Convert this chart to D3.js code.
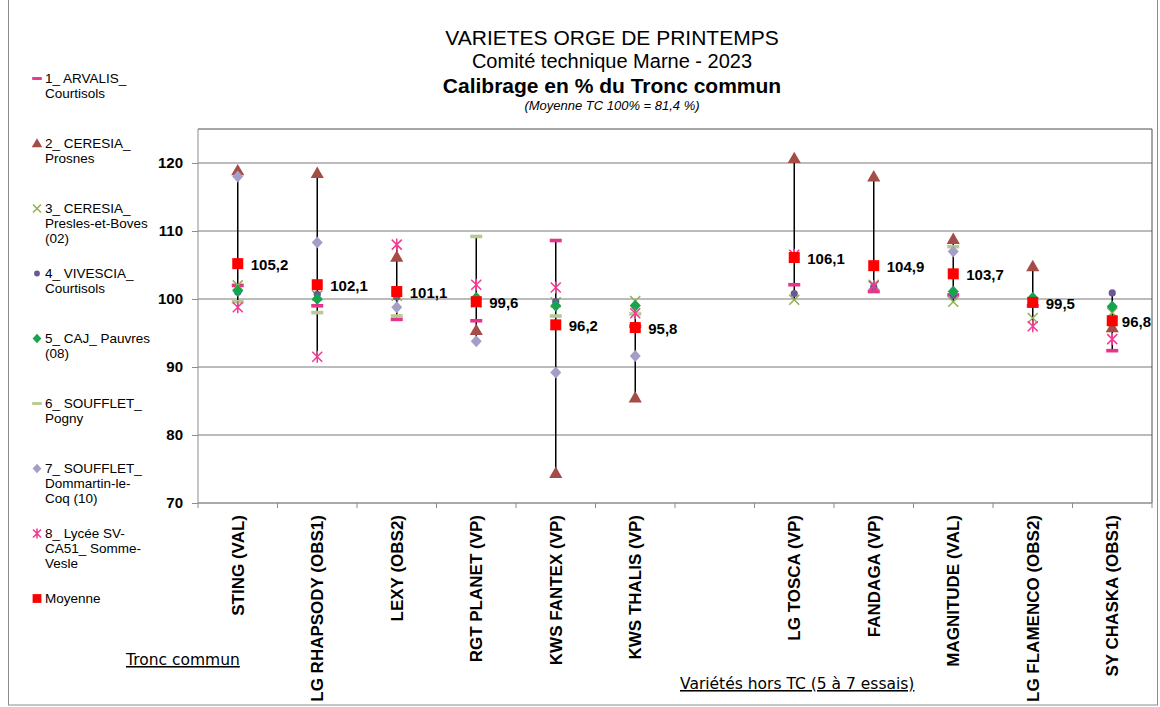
<!DOCTYPE html>
<html>
<head>
<meta charset="utf-8">
<script src="https://cdn.jsdelivr.net/npm/d3@7"></script>
<style>
  body { margin: 0; background: #fff; }
  svg { display: block; font-family: "Liberation Sans", Arial, sans-serif; }
  .grid line { stroke: #a6a6a6; stroke-width: 1.5; }
  .ylab { font-weight: bold; font-size: 15px; }
  .xlab { font-weight: bold; font-size: 17px; }
  .moy { font-weight: bold; font-size: 15px; }
  .leg { font-size: 13.5px; }
  .note { font-family: "DejaVu Sans", Verdana, sans-serif; font-size: 15.5px; text-decoration: underline; }
</style>
</head>
<body>
<svg class="chart" width="1160" height="707"></svg>
<script>
// variétés (la case vide sépare le tronc commun des variétés hors TC)
const categories = ["STING (VAL)", "LG RHAPSODY (OBS1)", "LEXY (OBS2)", "RGT PLANET (VP)", "KWS FANTEX (VP)",
  "KWS THALIS (VP)", "", "LG TOSCA (VP)", "FANDAGA (VP)", "MAGNITUDE (VAL)", "LG FLAMENCO (OBS2)", "SY CHASKA (OBS1)"];

// un tableau par essai (null = pas de donnée)
const arvalis     = [102.0, 99.0, 97.0, 96.8, 108.6, 96.0, null, 102.1, 101.1, 100.6, 99.0, 92.4];
const cerProsnes  = [118.9, 118.5, 106.2, 95.4, 74.4, 85.5, null, 120.7, 118.0, 108.8, 104.8, 95.8];
const cerPresles  = [102.0, 100.5, 100.5, 99.5, 99.5, 99.7, null, 99.9, 102.1, 99.6, 97.2, 98.0];
const vivescia    = [101.0, 100.7, 100.3, 99.8, 99.6, 99.0, null, 100.8, 101.8, 100.5, 99.8, 100.9];
const caj         = [101.2, 100.0, 100.8, 100.2, 99.0, 99.0, null, null, null, 101.1, 100.2, 98.9];
const soufPogny   = [99.6, 98.0, 97.5, 109.2, 97.5, 97.8, null, null, null, 107.7, null, null];
const soufDommart = [118.0, 108.3, 98.8, 93.8, 89.2, 91.6, null, null, null, 107.0, null, null];
const lycee       = [98.8, 91.5, 108.0, 102.1, 101.7, 97.9, null, 106.5, 101.9, null, 96.0, 94.1];
const moyenne     = [105.2, 102.1, 101.1, 99.6, 96.2, 95.8, null, 106.1, 104.9, 103.7, 99.5, 96.8];

const yTicks = [70, 80, 90, 100, 110, 120];

const legendLabels = [
  ["1_ ARVALIS_", "Courtisols"],
  ["2_ CERESIA_", "Prosnes"],
  ["3_ CERESIA_", "Presles-et-Boves", "(02)"],
  ["4_ VIVESCIA_", "Courtisols"],
  ["5_ CAJ_ Pauvres", "(08)"],
  ["6_ SOUFFLET_", "Pogny"],
  ["7_ SOUFFLET_", "Dommartin-le-", "Coq (10)"],
  ["8_ Lycée SV-", "CA51_ Somme-", "Vesle"],
  ["Moyenne"]
];

const series = [arvalis, cerProsnes, cerPresles, vivescia, caj, soufPogny, soufDommart, lycee];
const kinds = ["dash", "triangle", "x", "dot", "diamond", "dash", "diamond", "star", "square"];
const colors = ["#e8338a", "#a54c47", "#8fb050", "#6a5896", "#16a54e", "#b6ca92", "#a79ec7", "#f23a92", "#ff0000"];

const svg = d3.select("svg.chart");

// cadre extérieur
svg.append("rect").attr("x", 8.5).attr("y", -2).attr("width", 1149).attr("height", 707)
  .attr("fill", "none").attr("stroke", "#8c8c8c");

const x = d3.scaleBand().domain(categories).range([198, 1152]).padding(0);
const y = d3.scaleLinear().domain([70, 125]).range([503, 129]);
const cx = d => x(d) + x.bandwidth() / 2;

// grille
svg.append("g").attr("class", "grid")
  .selectAll("line").data(yTicks.filter(t => t > 70)).join("line")
  .attr("x1", 198).attr("x2", 1152).attr("y1", d => y(d)).attr("y2", d => y(d));

// bord haut et droit du graphe
svg.append("path").attr("d", `M198,${y(125)}H1152V${y(70)}`)
  .attr("fill", "none").attr("stroke", "#4d4d4d").attr("stroke-width", 1);

// axe Y
const yAxis = svg.append("g").attr("transform", "translate(198,0)")
  .call(d3.axisLeft(y).tickValues(yTicks).tickSize(6).tickPadding(9).tickSizeOuter(0));
yAxis.select(".domain").attr("stroke", "#8c8c8c").attr("d", `M0,${y(125)}V${y(70)}`);
yAxis.selectAll(".tick line").attr("stroke", "#8c8c8c");
yAxis.selectAll(".tick text").attr("class", "ylab").attr("fill", "#000");

// axe X : ligne + graduations entre les catégories
svg.append("line").attr("x1", 198).attr("x2", 1152).attr("y1", y(70)).attr("y2", y(70))
  .attr("stroke", "#8c8c8c").attr("stroke-width", 1.5);
svg.append("g").selectAll("line")
  .data(categories.map(c => x(c)).concat([x.range()[1]]))
  .join("line")
  .attr("x1", d => d).attr("x2", d => d).attr("y1", y(70)).attr("y2", y(70) + 5)
  .attr("stroke", "#8c8c8c");

svg.append("g").selectAll("text")
  .data(categories.filter(c => c !== ""))
  .join("text")
  .attr("class", "xlab")
  .attr("transform", d => `translate(${cx(d)},515) rotate(-90)`)
  .attr("text-anchor", "end")
  .attr("dy", "0.36em")
  .text(d => d);

// dessine un marqueur centré sur 0,0
function marker(g, kind, color, k) {
  if (kind == "dash") {
    g.append("rect").attr("x", -6 * k).attr("y", -1.8 * k).attr("width", 12 * k).attr("height", 3.6 * k)
      .attr("fill", color);
  } else if (kind == "triangle") {
    g.append("path").attr("d", d3.symbol(d3.symbolTriangle, 75 * k * k)()).attr("fill", color)
      .attr("transform", `translate(0,${1 * k})`);
  } else if (kind == "diamond") {
    g.append("path").attr("d", `M0,${-6 * k}L${5.5 * k},0L0,${6 * k}L${-5.5 * k},0Z`).attr("fill", color);
  } else if (kind == "dot") {
    g.append("circle").attr("r", 3.6 * k).attr("fill", color);
  } else if (kind == "square") {
    g.append("rect").attr("x", -5.5 * k).attr("y", -5.5 * k).attr("width", 11 * k).attr("height", 11 * k)
      .attr("fill", color);
  } else {
    const s = 5 * k;
    let d = `M${-s},${-s}L${s},${s}M${-s},${s}L${s},${-s}`;
    if (kind == "star") d += `M0,${-s - 1}V${s + 1}`;
    g.append("path").attr("d", d).attr("stroke", color).attr("stroke-width", 1.5).attr("fill", "none");
  }
}

// barres min-max par variété
const ranges = categories.map((c, i) => {
  const vals = series.map(s => s[i]).filter(v => v != null);
  return { c, min: d3.min(vals), max: d3.max(vals) };
}).filter(r => r.c !== "");

svg.append("g").selectAll("line").data(ranges).join("line")
  .attr("x1", d => cx(d.c)).attr("x2", d => cx(d.c))
  .attr("y1", d => y(d.min)).attr("y2", d => y(d.max))
  .attr("stroke", "#000").attr("stroke-width", 1.5);

// points de chaque essai, puis la moyenne par dessus
series.concat([moyenne]).forEach((s, si) => {
  const g = svg.append("g");
  s.forEach((v, i) => {
    if (v == null) return;
    const p = g.append("g").attr("transform", `translate(${cx(categories[i])},${y(v)})`);
    marker(p, kinds[si], colors[si], 1);
  });
});

// étiquettes de la moyenne
const fmt = v => d3.format(".1f")(v).replace(".", ",");
svg.append("g").selectAll("text")
  .data(moyenne.map((v, i) => ({ v, c: categories[i] })).filter(d => d.v != null))
  .join("text")
  .attr("class", "moy")
  .attr("y", d => y(d.v) + 1)
  .attr("dy", "0.36em")
  .text(d => fmt(d.v))
  .attr("x", function (d) {
    const w = this.getComputedTextLength();
    return Math.min(cx(d.c) + 13, 1151 - w);
  });

// légende
legendLabels.forEach((lines, i) => {
  const by = 83 + i * 65;
  const m = svg.append("g").attr("transform", `translate(37,${by - 4.5})`);
  marker(m, kinds[i], colors[i], 0.8);
  svg.append("text").attr("class", "leg").attr("x", 45).attr("y", by)
    .selectAll("tspan").data(lines).join("tspan")
    .attr("x", 45).attr("dy", (d, j) => j == 0 ? 0 : 15)
    .text(d => d);
});

// titres
const titles = [
  { t: "VARIETES ORGE DE PRINTEMPS", y: 45, size: 21, w: "normal", s: "normal" },
  { t: "Comité technique Marne - 2023", y: 68, size: 20, w: "normal", s: "normal" },
  { t: "Calibrage en % du Tronc commun", y: 93, size: 21, w: "bold", s: "normal" },
  { t: "(Moyenne TC 100% = 81,4 %)", y: 110, size: 13, w: "normal", s: "italic" }
];
svg.append("g").selectAll("text").data(titles).join("text")
  .attr("x", 612).attr("y", d => d.y).attr("text-anchor", "middle")
  .style("font-size", d => d.size + "px").style("font-weight", d => d.w).style("font-style", d => d.s)
  .text(d => d.t);

svg.append("text").attr("class", "note").attr("x", 126).attr("y", 665).text("Tronc commun");
svg.append("text").attr("class", "note").attr("x", 680).attr("y", 689).text("Variétés hors TC (5 à 7 essais)");
</script>
</body>
</html>
